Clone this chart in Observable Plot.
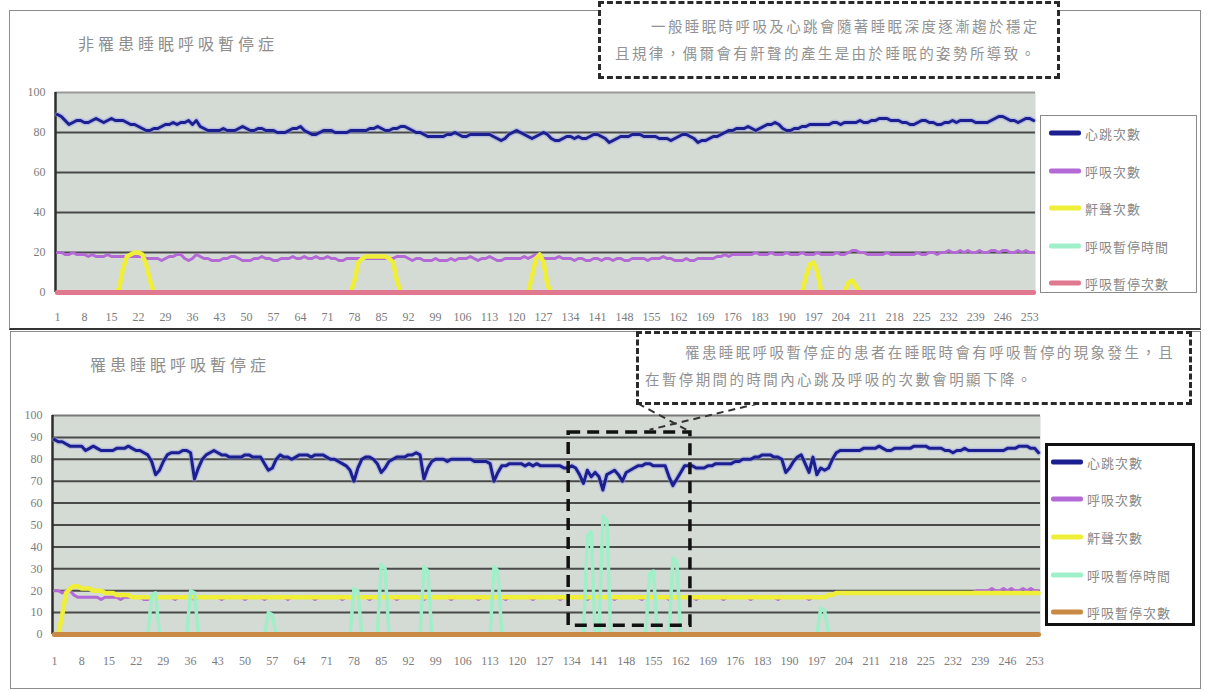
<!DOCTYPE html>
<html>
<head>
<meta charset="utf-8">
<script src="https://cdn.jsdelivr.net/npm/d3@7"></script>
<script src="https://cdn.jsdelivr.net/npm/@observablehq/plot@0.6"></script>
<style>
  body { margin: 0; background: #fff; width: 1208px; height: 692px; position: relative; overflow: hidden;
         font-family: "Noto Sans CJK TC", "Noto Sans CJK SC", sans-serif; }
  .panel { position: absolute; box-sizing: border-box; border: 1.5px solid #8c8c8c; }
  .title { position: absolute; color: #8e8e8e; font-size: 16px; letter-spacing: 4px; white-space: nowrap; }
  .note { position: absolute; box-sizing: border-box; border: 3px dashed #2a2a2a; background: #fff;
          color: #929292; font-size: 14.5px; letter-spacing: 2.4px; line-height: 27px; white-space: nowrap; }
  .legend { position: absolute; box-sizing: border-box; background: #fff; }
  .legend .row { position: absolute; display: flex; align-items: center; color: #8a8a8a; font-size: 13px;
                 letter-spacing: 1px; white-space: nowrap; transform: translateY(-50%); }
  .legend .sw { width: 32px; height: 5px; margin-right: 4px; border-radius: 2px; }
  .chart { position: absolute; }
</style>
</head>
<body>
<div class="panel" style="left:9px; top:10px; width:1192px; height:320px; border-bottom:2px solid #333;"></div>
<div class="panel" style="left:10px; top:331px; width:1191px; height:358px;"></div>

<div class="title" style="left:78px; top:31px;">非罹患睡眠呼吸暫停症</div>
<div class="title" style="left:90px; top:352px;">罹患睡眠呼吸暫停症</div>

<div id="chartTop" class="chart" style="left:0; top:80px;"></div>
<div id="chartBottom" class="chart" style="left:0; top:400px;"></div>

<div class="note" style="left:598px; top:1px; width:462px; height:78px; padding:8px 0 0 14px;">
  <div style="text-indent:36px;">一般睡眠時呼吸及心跳會隨著睡眠深度逐漸趨於穩定</div>
  <div>且規律，偶爾會有鼾聲的產生是由於睡眠的姿勢所導致。</div>
</div>
<div class="note" style="left:636px; top:331px; width:556px; height:74px; padding:4px 0 0 6px;">
  <div style="text-indent:40px;">罹患睡眠呼吸暫停症的患者在睡眠時會有呼吸暫停的現象發生，且</div>
  <div>在暫停期間的時間內心跳及呼吸的次數會明顯下降。</div>
</div>

<div id="legendTop" class="legend" style="left:1040px; top:115px; width:157px; height:178px; border:1.5px solid #8a8a8a;"></div>
<div id="legendBottom" class="legend" style="left:1045px; top:443px; width:150px; height:183px; border:3px solid #111;"></div>

<script>
// Category axis: sample number through the night
const sample = d3.range(1, 255);
const xTickLabels = [1,8,15,22,29,36,43,50,57,64,71,78,85,92,99,106,113,120,127,134,141,148,155,162,169,176,183,190,197,204,211,218,225,232,239,246,253];
const yTicksTop = [0,20,40,60,80,100];
const yTicksBottom = [0,10,20,30,40,50,60,70,80,90,100];

const seriesNames = ["心跳次數","呼吸次數","鼾聲次數","呼吸暫停時間","呼吸暫停次數"];
const seriesColorsTop = ["#1c1f8f","#b46ad6","#f0ef38","#9ff0c8","#e07890"];
const seriesColorsBottom = ["#1c1f8f","#b46ad6","#f0ef38","#9ff0c8","#c98a45"];

// ---- Without sleep apnea ----
const heartTop = [
89,88,86,84,85,86,86,85,85,86,
87,86,85,86,87,86,86,86,85,84,
84,83,82,81,81,82,82,83,84,84,
85,84,85,85,86,84,86,83,82,81,
81,81,81,82,81,81,81,82,83,82,
81,81,82,82,81,81,81,80,80,80,
81,82,82,83,81,80,79,79,80,81,
81,81,80,80,80,80,81,81,81,81,
81,82,82,83,82,81,81,82,82,83,
83,82,81,80,80,79,78,78,78,78,
78,79,79,80,79,78,78,79,79,79,
79,79,79,78,77,76,77,79,80,81,
80,79,78,77,78,79,80,79,77,76,
76,77,78,78,77,78,77,77,78,79,
79,78,77,75,76,77,78,78,78,79,
79,79,78,78,78,78,77,77,77,76,
77,78,79,79,78,77,75,76,76,77,
78,78,79,80,81,81,82,82,82,83,
82,81,82,83,84,84,85,84,82,81,
81,82,82,83,83,84,84,84,84,84,
84,85,85,84,85,85,85,85,86,85,
85,86,86,87,87,87,86,86,86,85,
85,84,84,85,86,86,85,85,84,84,
85,85,86,85,86,86,86,86,85,85,
85,85,86,87,88,88,87,86,86,85,
86,87,87,86];

const breathTop = [
20,20,19,19,20,19,19,19,18,19,
18,18,18,19,18,18,18,18,18,18,
18,18,18,17,17,17,17,16,17,18,
18,19,19,17,16,17,19,18,17,17,
16,16,16,17,17,18,18,17,16,16,
16,17,17,18,17,17,16,16,17,17,
17,18,17,17,18,17,17,18,17,17,
18,17,17,16,16,17,17,17,17,17,
17,17,17,17,17,17,17,17,18,18,
18,17,16,17,17,16,16,16,17,16,
16,16,17,16,17,17,17,18,17,16,
17,17,18,17,16,16,17,17,17,17,
17,18,17,18,19,18,17,17,17,17,
18,17,17,17,16,17,17,16,16,17,
17,16,17,17,16,17,17,16,16,17,
17,17,17,16,17,17,17,18,17,17,
16,16,16,17,16,16,17,17,17,17,
17,18,18,19,18,19,19,19,19,19,
19,20,19,19,19,20,19,19,19,20,
19,19,19,20,19,19,19,20,19,19,
19,19,20,19,19,20,21,21,20,20,
19,19,19,19,19,20,19,19,19,19,
19,19,19,20,19,19,20,20,19,20,
20,21,20,20,21,20,21,20,20,21,
20,20,21,21,20,21,21,20,20,21,
20,21,20,20];

const snoreTop = [
0,0,0,0,0,0,0,0,0,0,
0,0,0,0,0,0,2,12,18,19,
20,20,19,14,6,0,0,0,0,0,
0,0,0,0,0,0,0,0,0,0,
0,0,0,0,0,0,0,0,0,0,
0,0,0,0,0,0,0,0,0,0,
0,0,0,0,0,0,0,0,0,0,
0,0,0,0,0,0,0,6,15,17,
18,18,18,18,18,18,17,15,6,0,
0,0,0,0,0,0,0,0,0,0,
0,0,0,0,0,0,0,0,0,0,
0,0,0,0,0,0,0,0,0,0,
0,0,0,8,17,19,15,4,0,0,
0,0,0,0,0,0,0,0,0,0,
0,0,0,0,0,0,0,0,0,0,
0,0,0,0,0,0,0,0,0,0,
0,0,0,0,0,0,0,0,0,0,
0,0,0,0,0,0,0,0,0,0,
0,0,0,0,0,0,0,0,0,0,
0,0,0,0,8,14,15,10,0,0,
0,0,0,0,0,5,6,3,0,0,
0,0,0,0,0,0,0,0,0,0,
0,0,0,0,0,0,0,0,0,0,
0,0,0,0,0,0,0,0,0,0,
0,0,0,0,0,0,0,0,0,0,
0,0,0,0];

const pauseTimeTop = [
0,0,0,0,0,0,0,0,0,0, 0,0,0,0,0,0,0,0,0,0, 0,0,0,0,0,0,0,0,0,0, 0,0,0,0,0,0,0,0,0,0,
0,0,0,0,0,0,0,0,0,0, 0,0,0,0,0,0,0,0,0,0, 0,0,0,0,0,0,0,0,0,0, 0,0,0,0,0,0,0,0,0,0,
0,0,0,0,0,0,0,0,0,0, 0,0,0,0,0,0,0,0,0,0, 0,0,0,0,0,0,0,0,0,0, 0,0,0,0,0,0,0,0,0,0,
0,0,0,0,0,0,0,0,0,0, 0,0,0,0,0,0,0,0,0,0, 0,0,0,0,0,0,0,0,0,0, 0,0,0,0,0,0,0,0,0,0,
0,0,0,0,0,0,0,0,0,0, 0,0,0,0,0,0,0,0,0,0, 0,0,0,0,0,0,0,0,0,0, 0,0,0,0,0,0,0,0,0,0,
0,0,0,0,0,0,0,0,0,0, 0,0,0,0,0,0,0,0,0,0, 0,0,0,0,0,0,0,0,0,0, 0,0,0,0,0,0,0,0,0,0,
0,0,0,0,0,0,0,0,0,0, 0,0,0,0];

const pauseCountTop = [
0,0,0,0,0,0,0,0,0,0, 0,0,0,0,0,0,0,0,0,0, 0,0,0,0,0,0,0,0,0,0, 0,0,0,0,0,0,0,0,0,0,
0,0,0,0,0,0,0,0,0,0, 0,0,0,0,0,0,0,0,0,0, 0,0,0,0,0,0,0,0,0,0, 0,0,0,0,0,0,0,0,0,0,
0,0,0,0,0,0,0,0,0,0, 0,0,0,0,0,0,0,0,0,0, 0,0,0,0,0,0,0,0,0,0, 0,0,0,0,0,0,0,0,0,0,
0,0,0,0,0,0,0,0,0,0, 0,0,0,0,0,0,0,0,0,0, 0,0,0,0,0,0,0,0,0,0, 0,0,0,0,0,0,0,0,0,0,
0,0,0,0,0,0,0,0,0,0, 0,0,0,0,0,0,0,0,0,0, 0,0,0,0,0,0,0,0,0,0, 0,0,0,0,0,0,0,0,0,0,
0,0,0,0,0,0,0,0,0,0, 0,0,0,0,0,0,0,0,0,0, 0,0,0,0,0,0,0,0,0,0, 0,0,0,0,0,0,0,0,0,0,
0,0,0,0,0,0,0,0,0,0, 0,0,0,0];

// ---- With sleep apnea ----
const heartBottom = [
89,88,88,87,86,86,86,86,84,85,
86,85,84,84,84,84,85,85,85,86,
85,84,84,83,82,79,73,75,79,82,
83,83,83,84,84,83,71,76,80,82,
83,84,83,82,82,81,81,81,81,82,
82,81,81,81,78,75,76,80,82,81,
81,80,81,82,82,82,81,82,82,82,
81,80,80,79,78,77,75,70,76,80,
81,81,80,78,74,76,79,80,81,81,
81,82,82,83,82,71,76,79,80,80,
80,79,80,80,80,80,80,80,79,79,
79,79,78,70,74,77,77,78,78,78,
78,77,78,77,78,77,77,77,77,77,
77,76,76,77,76,73,69,75,72,74,
72,66,73,74,75,73,70,74,75,76,
77,77,78,78,77,77,77,77,72,68,
71,74,77,77,77,76,76,76,77,77,
78,78,78,78,78,79,79,80,80,80,
81,81,82,82,82,81,81,80,74,76,
79,81,82,78,74,81,73,76,75,76,
80,83,84,84,84,84,84,84,85,85,
85,85,86,85,84,84,85,85,85,85,
85,86,86,86,86,85,85,85,85,84,
84,83,84,84,85,84,84,84,84,84,
84,84,84,84,84,85,85,85,86,86,
86,85,85,83];

const breathBottom = [
20,20,19,20,20,18,17,17,17,17,
17,17,16,17,17,17,17,16,17,17,
17,17,17,16,16,17,17,17,17,17,
17,16,17,17,17,17,16,17,17,17,
17,17,17,16,17,17,17,17,17,16,
17,17,17,17,16,17,17,17,17,17,
16,17,17,17,17,17,17,16,17,17,
17,17,17,17,16,17,17,17,17,17,
17,16,17,17,17,17,17,17,16,17,
17,17,17,17,17,16,17,17,17,17,
17,17,16,17,17,17,17,17,17,16,
17,17,17,17,17,17,16,17,17,17,
17,17,17,16,17,17,17,17,17,17,
16,17,17,17,17,17,17,16,17,17,
17,17,17,17,16,17,17,17,17,17,
17,16,17,17,17,17,17,17,16,17,
17,17,17,17,17,16,17,17,17,17,
17,17,16,17,17,17,17,17,17,16,
17,17,17,17,17,17,16,17,17,17,
17,17,17,17,16,17,17,17,17,18,
18,19,19,19,19,19,19,19,19,19,
19,19,19,19,19,19,19,19,19,19,
19,19,19,19,19,19,19,19,19,19,
19,19,19,19,19,19,19,20,20,20,
20,21,20,20,21,20,21,20,20,21,
20,21,20,20];

const snoreBottom = [
0,0,9,19,21,22,22,21,21,21,
20,20,20,19,19,19,18,18,18,18,
17,17,17,17,17,17,17,17,17,17,
17,17,17,17,17,17,17,17,17,17,
17,17,17,17,17,17,17,17,17,17,
17,17,17,17,17,17,17,17,17,17,
17,17,17,17,17,17,17,17,17,17,
17,17,17,17,17,17,17,17,17,17,
17,17,17,17,17,17,17,17,17,17,
17,17,17,17,17,17,17,17,17,17,
17,17,17,17,17,17,17,17,17,17,
17,17,17,17,17,17,17,17,17,17,
17,17,17,17,17,17,17,17,17,17,
17,17,17,17,17,17,17,17,17,17,
17,17,17,17,17,17,17,17,17,17,
17,17,17,17,17,17,17,17,17,17,
17,17,17,17,17,17,17,17,17,17,
17,17,17,17,17,17,17,17,17,17,
17,17,17,17,17,17,17,17,17,17,
17,17,17,17,17,17,17,17,17,18,
18,19,19,19,19,19,19,19,19,19,
19,19,19,19,19,19,19,19,19,19,
19,19,19,19,19,19,19,19,19,19,
19,19,19,19,19,19,19,19,19,19,
19,19,19,19,19,19,19,19,19,19,
19,19,19,19];

const pauseTimeBottom = [
0,0,0,0,0,0,0,0,0,0,
0,0,0,0,0,0,0,0,0,0,
0,0,0,0,0,18,19,0,0,0,
0,0,0,0,0,20,19,0,0,0,
0,0,0,0,0,0,0,0,0,0,
0,0,0,0,0,10,9,0,0,0,
0,0,0,0,0,0,0,0,0,0,
0,0,0,0,0,0,0,21,20,0,
0,0,0,0,32,30,0,0,0,0,
0,0,0,0,0,31,29,0,0,0,
0,0,0,0,0,0,0,0,0,0,
0,0,0,31,29,0,0,0,0,0,
0,0,0,0,0,0,0,0,0,0,
0,0,0,0,0,0,0,45,47,0,
0,54,52,0,0,0,0,0,0,0,
0,0,0,28,29,0,0,0,0,35,
33,0,0,0,0,0,0,0,0,0,
0,0,0,0,0,0,0,0,0,0,
0,0,0,0,0,0,0,0,0,0,
0,0,0,0,0,0,0,12,11,0,
0,0,0,0,0,0,0,0,0,0,
0,0,0,0,0,0,0,0,0,0,
0,0,0,0,0,0,0,0,0,0,
0,0,0,0,0,0,0,0,0,0,
0,0,0,0,0,0,0,0,0,0,
0,0,0,0];

const pauseCountBottom = [
0,0,0,0,0,0,0,0,0,0, 0,0,0,0,0,0,0,0,0,0, 0,0,0,0,0,0,0,0,0,0, 0,0,0,0,0,0,0,0,0,0,
0,0,0,0,0,0,0,0,0,0, 0,0,0,0,0,0,0,0,0,0, 0,0,0,0,0,0,0,0,0,0, 0,0,0,0,0,0,0,0,0,0,
0,0,0,0,0,0,0,0,0,0, 0,0,0,0,0,0,0,0,0,0, 0,0,0,0,0,0,0,0,0,0, 0,0,0,0,0,0,0,0,0,0,
0,0,0,0,0,0,0,0,0,0, 0,0,0,0,0,0,0,0,0,0, 0,0,0,0,0,0,0,0,0,0, 0,0,0,0,0,0,0,0,0,0,
0,0,0,0,0,0,0,0,0,0, 0,0,0,0,0,0,0,0,0,0, 0,0,0,0,0,0,0,0,0,0, 0,0,0,0,0,0,0,0,0,0,
0,0,0,0,0,0,0,0,0,0, 0,0,0,0,0,0,0,0,0,0, 0,0,0,0,0,0,0,0,0,0, 0,0,0,0,0,0,0,0,0,0,
0,0,0,0,0,0,0,0,0,0, 0,0,0,0];

// Highlighted apnea episode and the callout leading to its note
const highlight = [{x1: 133.2, x2: 164.5, y1: 4, y2: 92.2}];
const callout = [
  {x1: 151, y1: 105.5, x2: 164.5, y2: 92.5},
  {x1: 182, y1: 105.5, x2: 154, y2: 93.5}
];

const xDomain = [0.5, 254.5];

function buildTable(series) {
  return sample.map((s, k) => ({sample: s, v0: series[0][k], v1: series[1][k], v2: series[2][k], v3: series[3][k], v4: series[4][k]}));
}

function drawChart({series, colors, yTicks, width, height, marginLeft, marginTop, marginBottom, tickPadX, extra, topGridColor}) {
  const table = buildTable(series);
  const widths = [3, 3, 4.5, 3.5, 5];
  const lines = series.map((_, j) => Plot.line(table, {
    x: "sample", y: "v" + j, stroke: colors[j], strokeWidth: widths[j], strokeLinejoin: "round"
  }));
  const halo = Plot.line(table, {x: "sample", y: "v0", stroke: "#8f95e6", strokeWidth: 5.5, strokeOpacity: 0.45});
  return Plot.plot({
    width, height, marginLeft, marginRight: 5, marginTop, marginBottom,
    x: {domain: xDomain, axis: null},
    y: {domain: [0, 100], axis: null, label: null},
    style: {fontFamily: "'Liberation Serif', serif", fontSize: "12px", background: "transparent", overflow: "visible"},
    marks: [
      Plot.frame({fill: "#d4dad4", stroke: null}),
      Plot.gridY(yTicks.filter(t => t < 100), {stroke: "#3a3a3a", strokeOpacity: 0.9, strokeWidth: 2}),
      Plot.gridY([100], {stroke: topGridColor, strokeOpacity: 1, strokeWidth: 2}),
      Plot.ruleX([xDomain[0]], {stroke: "#2e2e2e", strokeWidth: 2.5}),
      halo,
      ...lines,
      ...(extra || []),
      Plot.axisY(yTicks, {tickSize: 0, tickPadding: 10, color: "#7c7c7c", label: null}),
      Plot.axisX(xTickLabels, {tickSize: 0, tickPadding: tickPadX, color: "#7c7c7c", label: null})
    ]
  });
}

document.getElementById("chartTop").append(drawChart({
  series: [heartTop, breathTop, snoreTop, pauseTimeTop, pauseCountTop],
  colors: seriesColorsTop, yTicks: yTicksTop,
  width: 1040, height: 260, marginLeft: 55, marginTop: 12, marginBottom: 48, tickPadX: 20,
  topGridColor: "#9a9a9a"
}));

document.getElementById("chartBottom").append(drawChart({
  series: [heartBottom, breathBottom, snoreBottom, pauseTimeBottom, pauseCountBottom],
  colors: seriesColorsBottom, yTicks: yTicksBottom,
  width: 1045, height: 275, marginLeft: 52, marginTop: 15, marginBottom: 41, tickPadX: 22,
  topGridColor: "#7a7a7a",
  extra: [
    Plot.rect(highlight, {x1: "x1", x2: "x2", y1: "y1", y2: "y2", fill: "none", stroke: "#111", strokeWidth: 3.5, strokeDasharray: "12,7"}),
    Plot.link(callout, {x1: "x1", y1: "y1", x2: "x2", y2: "y2", stroke: "#333", strokeWidth: 2, strokeDasharray: "7,5"})
  ]
}));

function drawLegend(id, colors, rowsY, left) {
  const box = document.getElementById(id);
  seriesNames.forEach((name, j) => {
    const row = document.createElement("div");
    row.className = "row";
    row.style.left = left + "px";
    row.style.top = rowsY[j] + "px";
    const sw = document.createElement("div");
    sw.className = "sw";
    sw.style.background = colors[j];
    row.append(sw, document.createTextNode(name));
    box.append(row);
  });
}
drawLegend("legendTop", seriesColorsTop, [17, 55, 92, 130, 167], 8);
drawLegend("legendBottom", seriesColorsBottom, [16, 53, 91, 129, 166], 3);
</script>
</body>
</html>
